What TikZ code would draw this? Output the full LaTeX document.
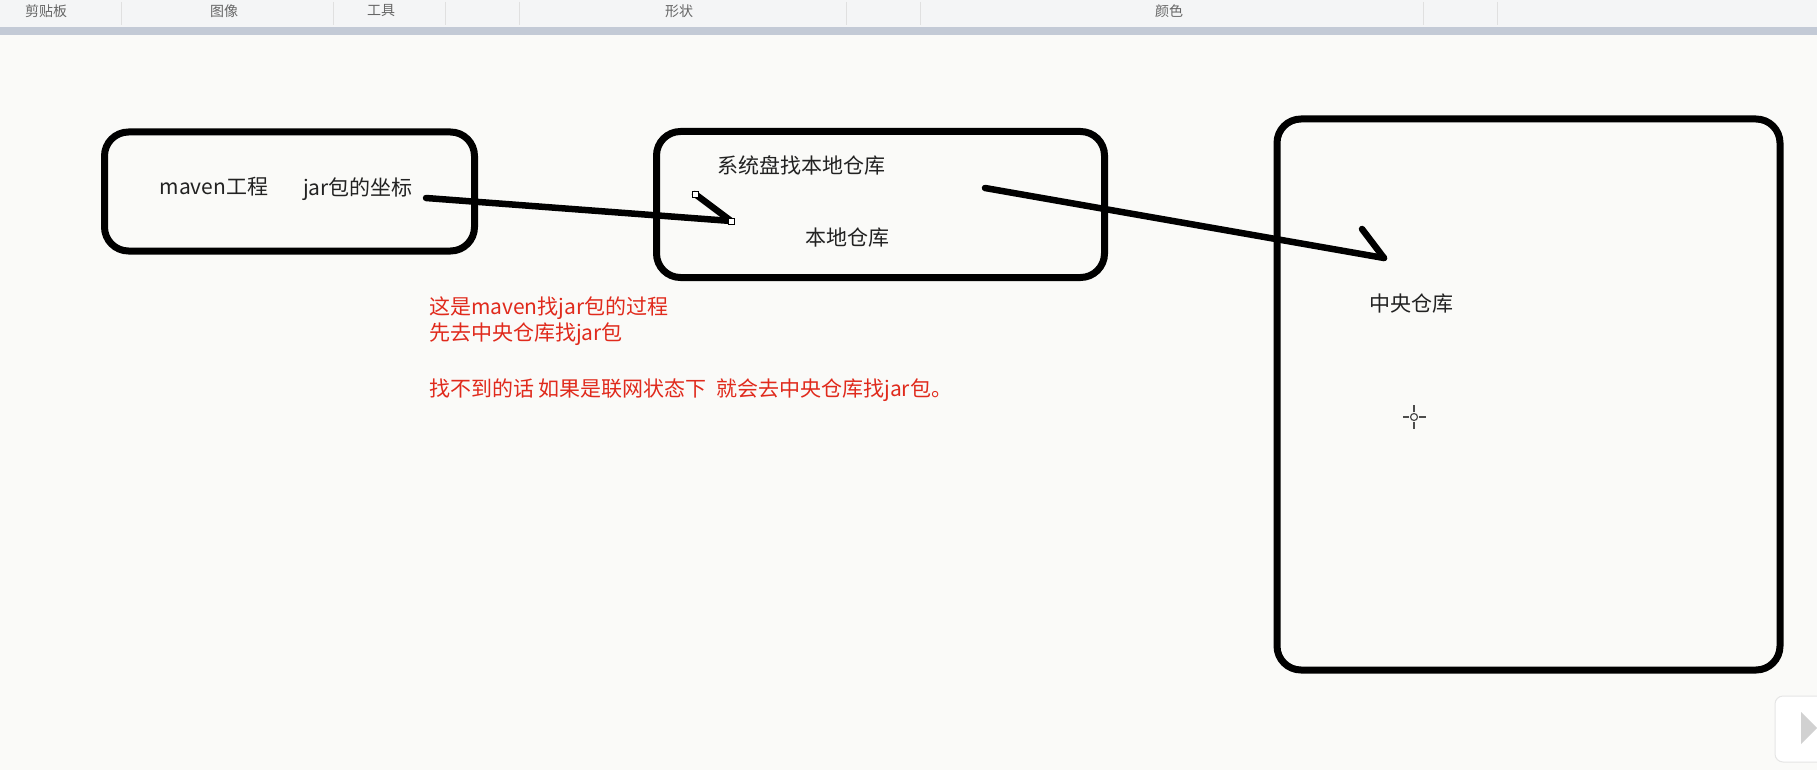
\documentclass[tikz,border=0pt]{standalone}
\usepackage{fontspec}
\usepackage{tikz}
\newfontfamily\cjk{Noto Sans CJK SC}
\definecolor{canvasbg}{HTML}{FAFAF8}
\definecolor{barbg}{HTML}{F4F5F6}
\definecolor{barband}{HTML}{C3CAD6}
\definecolor{inkred}{HTML}{E02A1C}
\definecolor{inkdark}{HTML}{222222}

\begin{document}
\begin{tikzpicture}[x=1pt, y=-1pt,
    every node/.style={font=\cjk\fontsize{21}{25}\selectfont, text=inkdark, inner sep=0pt},
    box/.style={draw=black, line width=7pt, rounded corners=24pt},
    note/.style={text=inkred, anchor=west},
    barlabel/.style={font=\cjk\fontsize{14}{16}\selectfont, text=black!60},
    stroke/.style={line width=6.5pt, line cap=round}]
    \useasboundingbox (0,0) rectangle (1817,770);

    % paint window
    \fill[canvasbg] (0,0) rectangle (1817,770);
    \fill[barbg] (0,0) rectangle (1817,27);
    \fill[barband] (0,27) rectangle (1817,35);
    \foreach \sx in {121,333,445,519,846,920,1423,1497}
        \draw[black!12] (\sx,2) -- (\sx,25);
    \node[barlabel] (clip) at (46,11) {剪贴板};
    \node[barlabel] (image) at (224,11) {图像};
    \node[barlabel] (tools) at (381,11) {工具};
    \node[barlabel] (shapes) at (679,11) {形状};
    \node[barlabel] (colors) at (1169,11) {颜色};

    % boxes
    \node[box, minimum width=370pt, minimum height=119pt] (project) at (289.5,191.5) {};
    \node[box, minimum width=448pt, minimum height=146pt] (local) at (880.5,204.5) {};
    \node[box, minimum width=503pt, minimum height=551pt] (central) at (1528.5,394.5) {};

    \node (maven) at (214,187) {maven工程};
    \node (coord) at (358,189) {jar包的坐标};
    \node (disk) at (801,165) {系统盘找本地仓库};
    \node (localrepo) at (847,238) {本地仓库};
    \node (centralrepo) at (1411,304) {中央仓库};

    \node[note] (note1) at (429,308) {这是maven找jar包的过程};
    \node[note] (note2) at (429,334) {先去中央仓库找jar包};
    \node[note] (note3) at (429,390) {找不到的话 如果是联网状态下\ \ 就会去中央仓库找jar包。};

    % hand drawn arrows
    \coordinate (start1) at (426,198);
    \coordinate (tip1) at (731,221);
    \coordinate (barb1) at (695,194);
    \coordinate (start2) at (985,188);
    \coordinate (tip2) at (1384,258);
    \coordinate (barb2) at (1362,229);
    \draw[stroke] (start1) -- (tip1);
    \draw[stroke] (barb1) -- (tip1);
    \draw[stroke] (start2) -- (tip2);
    \draw[stroke] (barb2) -- (tip2);
    \foreach \h in {barb1,tip1}
        \draw[black, fill=white, line width=0.8pt] (\h) ++(-3,-3) rectangle ++(6,6);

    % cursor
    \coordinate (cursor) at (1414,417);
    \draw[black!70, line width=1.2pt] (cursor) circle (3.5);
    \draw[black!70, line width=1.2pt]
        (1403,417) -- (1409,417) (1419,417) -- (1426,417)
        (1414,405) -- (1414,412) (1414,422) -- (1414,429);

    % play button
    \draw[black!10, fill=white, rounded corners=8pt, line width=1pt] (1775,696) rectangle (1840,762);
    \fill[black!18] (1801,712) -- (1817,728) -- (1801,744) -- cycle;
\end{tikzpicture}
\end{document}
